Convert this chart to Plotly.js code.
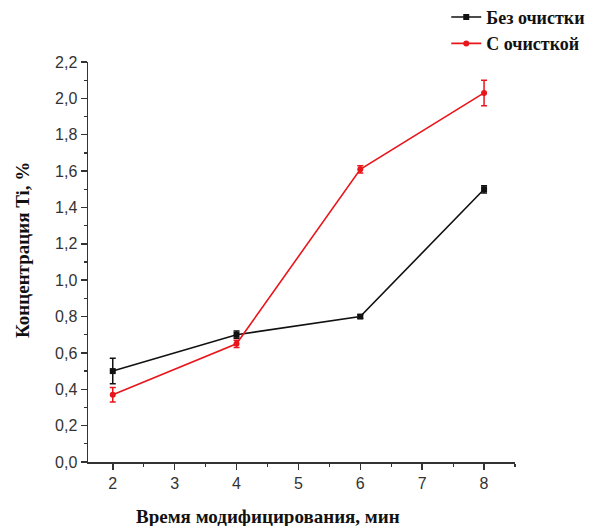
<!DOCTYPE html>
<html>
<head>
<meta charset="utf-8">
<script src="https://cdn.plot.ly/plotly-3.0.1.min.js"></script>
<style>html,body{margin:0;padding:0;background:#fff;}#chart{width:598px;height:526px;}</style>
</head>
<body>
<div id="chart"></div>
<script>
const timeMin = [2, 4, 6, 8];
const withoutCleaning = [0.50, 0.70, 0.80, 1.50];
const withoutCleaningErr = [0.07, 0.02, 0.01, 0.02];
const withCleaning = [0.37, 0.65, 1.61, 2.03];
const withCleaningErr = [0.04, 0.02, 0.02, 0.07];
const seriesNames = ['Без очистки', 'С очисткой'];
const xTitle = 'Время модифицирования, мин';
const yTitle = 'Концентрация Ti, %';

const serif = 'Liberation Serif, Times New Roman, serif';
const sans = 'Liberation Sans, Arial, sans-serif';

const traces = [
  {
    x: timeMin, y: withoutCleaning, name: '<b>' + seriesNames[0] + '</b>',
    mode: 'lines+markers', type: 'scatter',
    line: {color: '#111111', width: 1.6},
    marker: {symbol: 'square', size: 6, color: '#111111'},
    error_y: {type: 'data', array: withoutCleaningErr, visible: true, color: '#111111', thickness: 1.5, width: 3}
  },
  {
    x: timeMin, y: withCleaning, name: '<b>' + seriesNames[1] + '</b>',
    mode: 'lines+markers', type: 'scatter',
    line: {color: '#e8161b', width: 1.6},
    marker: {symbol: 'circle', size: 6, color: '#e8161b'},
    error_y: {type: 'data', array: withCleaningErr, visible: true, color: '#e8161b', thickness: 1.5, width: 3}
  }
];

const layout = {
  width: 598, height: 526,
  margin: {l: 88, r: 83, t: 62, b: 64, autoexpand: false},
  paper_bgcolor: '#fff', plot_bgcolor: '#fff',
  separators: ',.',
  showlegend: true,
  legend: {
    x: 0.839, y: 1.158, xanchor: 'left', yanchor: 'top',
    font: {family: serif, size: 18, color: '#111'},
    bgcolor: 'rgba(0,0,0,0)', tracegroupgap: 0
  },
  xaxis: {
    range: [1.6, 8.5], dtick: 1, tick0: 0,
    showgrid: false, zeroline: false,
    showline: true, linecolor: '#333', linewidth: 1.5,
    ticks: 'outside', ticklen: 6, tickwidth: 1.5, tickcolor: '#333',
    minor: {dtick: 0.5, ticks: 'outside', ticklen: 3, tickwidth: 1.2, tickcolor: '#333', showgrid: false},
    tickfont: {family: sans, size: 16, color: '#333'}
  },
  yaxis: {
    range: [0, 2.2], dtick: 0.2, tick0: 0, tickformat: '.1f',
    showgrid: false, zeroline: false,
    showline: true, linecolor: '#333', linewidth: 1.5,
    ticks: 'outside', ticklen: 6, tickwidth: 1.5, tickcolor: '#333',
    minor: {dtick: 0.1, ticks: 'outside', ticklen: 3, tickwidth: 1.2, tickcolor: '#333', showgrid: false},
    tickfont: {family: sans, size: 16, color: '#333'}
  },
  annotations: [
    {text: '<b>' + xTitle + '</b>', xref: 'paper', yref: 'paper', x: (268 - 88) / 427, y: (462 - 516) / 400,
     xanchor: 'center', yanchor: 'middle', showarrow: false, font: {family: serif, size: 19, color: '#111'}},
    {text: '<b>' + yTitle + '</b>', xref: 'paper', yref: 'paper', x: (22 - 88) / 427, y: (462 - 250) / 400,
     xanchor: 'center', yanchor: 'middle', textangle: -90, showarrow: false, font: {family: serif, size: 19, color: '#111'}}
  ]
};

Plotly.newPlot('chart', traces, layout, {displayModeBar: false, staticPlot: true});
</script>
</body>
</html>
